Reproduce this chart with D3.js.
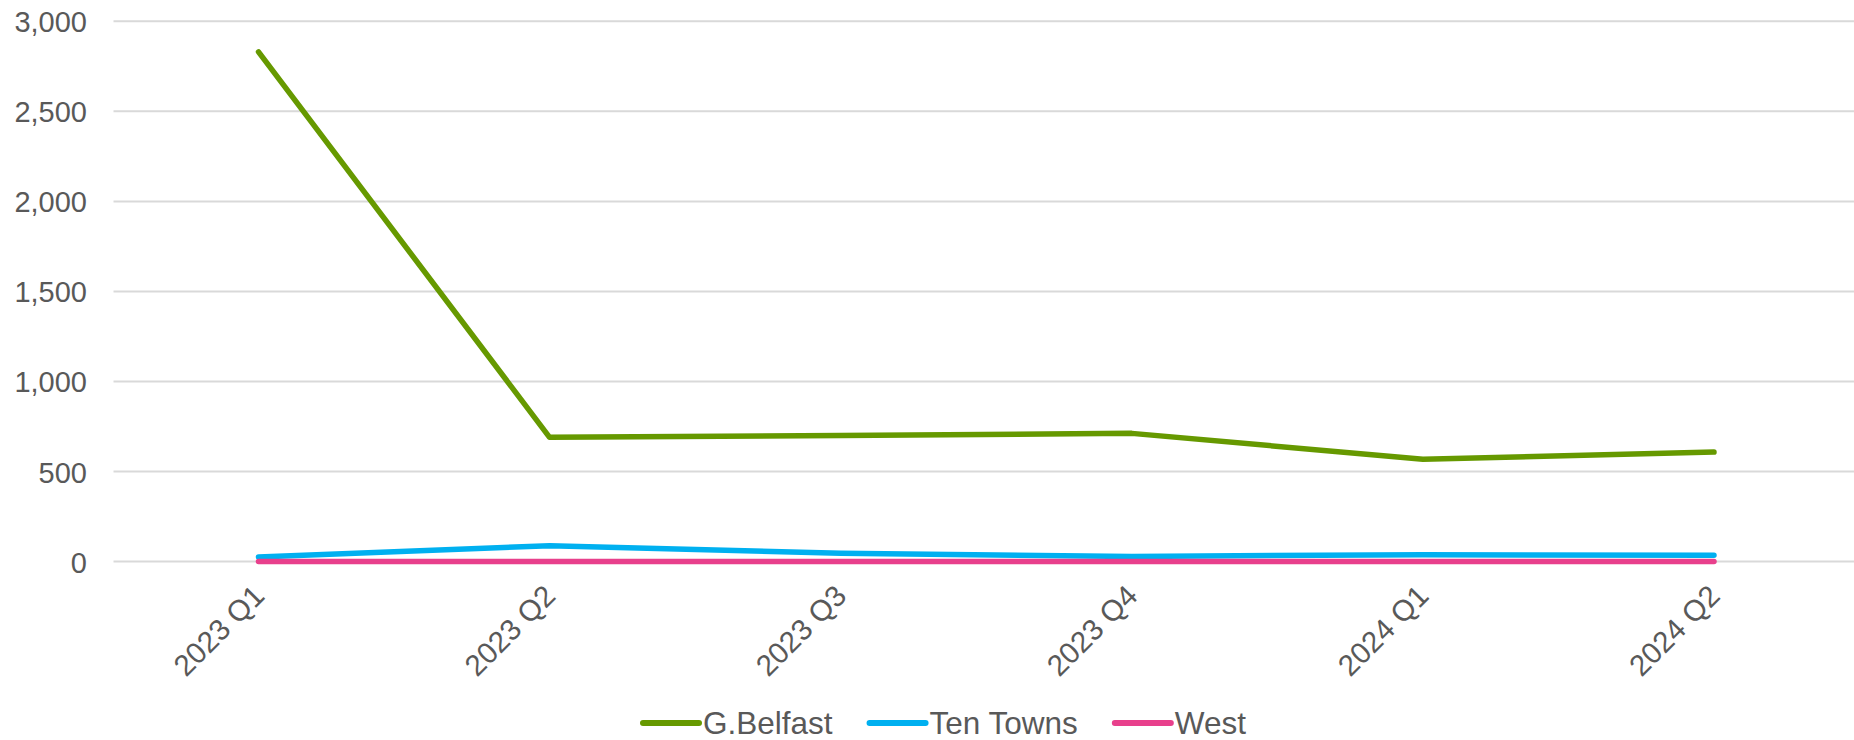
<!DOCTYPE html>
<html>
<head>
<meta charset="utf-8">
<script src="https://cdn.jsdelivr.net/npm/d3@7"></script>
<style>
  html, body { margin: 0; padding: 0; background: #ffffff; }
  svg { display: block; font-family: "Liberation Sans", Arial, sans-serif; }
</style>
</head>
<body>
<svg id="chart" width="1854" height="740"></svg>
<script>
// Quarterly figures by area
const categories = ["2023 Q1", "2023 Q2", "2023 Q3", "2023 Q4", "2024 Q1", "2024 Q2"];
const gBelfast  = [2830, 690, 700, 712, 568, 608];
const tenTowns  = [26, 88, 46, 29, 38, 35];
const west      = [0, 0, 0, 0, 0, 0];
const yTicks    = [0, 500, 1000, 1500, 2000, 2500, 3000];

const seriesNames  = ["G.Belfast", "Ten Towns", "West"];
const seriesValues = [gBelfast, tenTowns, west];
const seriesColors = ["#669900", "#00b0f0", "#e8408c"];

const W = 1854, H = 740;
const plotLeft = 113.5, plotRight = W;
const textColor = "#595959";

const svg = d3.select("#chart");

const x = d3.scalePoint().domain(categories).range([258.5, 1714]);
const y = d3.scaleLinear().domain([0, 3000]).range([561.6, 21.3]);

// Horizontal gridlines
svg.append("g")
  .selectAll("line")
  .data(yTicks)
  .join("line")
  .attr("x1", plotLeft)
  .attr("x2", plotRight)
  .attr("y1", d => y(d))
  .attr("y2", d => y(d))
  .attr("stroke", "#d9d9d9")
  .attr("stroke-width", 2);

// Y axis labels
const yAxis = d3.axisLeft(y)
  .tickValues(yTicks)
  .tickFormat(d3.format(","))
  .tickSize(0)
  .tickPadding(0);
const yG = svg.append("g").attr("transform", "translate(87,0)").call(yAxis);
yG.select(".domain").remove();
yG.selectAll("text")
  .attr("fill", textColor)
  .attr("font-size", "29px")
  .attr("font-family", "'Liberation Sans', Arial, sans-serif")
  .attr("dy", "0.36em");

// X axis labels, rotated
const xAxis = d3.axisBottom(x).tickSize(0).tickPadding(0);
const xG = svg.append("g").attr("transform", `translate(0,${y(0)})`).call(xAxis);
xG.select(".domain").remove();
xG.selectAll("text")
  .attr("fill", textColor)
  .attr("font-size", "29.5px")
  .attr("font-family", "'Liberation Sans', Arial, sans-serif")
  .attr("text-anchor", "end")
  .attr("dy", null)
  .attr("y", null)
  .attr("transform", "translate(7,36) rotate(-45)");

// Series lines
const line = d3.line()
  .x((d, i) => x(categories[i]))
  .y(d => y(d));

svg.append("g")
  .selectAll("path")
  .data(seriesValues)
  .join("path")
  .attr("d", d => line(d))
  .attr("fill", "none")
  .attr("stroke", (d, i) => seriesColors[i])
  .attr("stroke-width", 5.5)
  .attr("stroke-linejoin", "round")
  .attr("stroke-linecap", "round");

// Legend
const legendY = 723;
const legend = svg.append("g").attr("font-size", "31.5px").attr("fill", textColor);
let cursor = 643;
seriesNames.forEach((name, i) => {
  const item = legend.append("g");
  item.append("line")
    .attr("x1", cursor).attr("x2", cursor + 56)
    .attr("y1", legendY).attr("y2", legendY)
    .attr("stroke", seriesColors[i])
    .attr("stroke-width", 6)
    .attr("stroke-linecap", "round");
  const t = item.append("text")
    .attr("x", cursor + 60)
    .attr("y", legendY + 10.5)
    .text(name);
  cursor += 60 + t.node().getComputedTextLength() + 37;
});
</script>
</body>
</html>
